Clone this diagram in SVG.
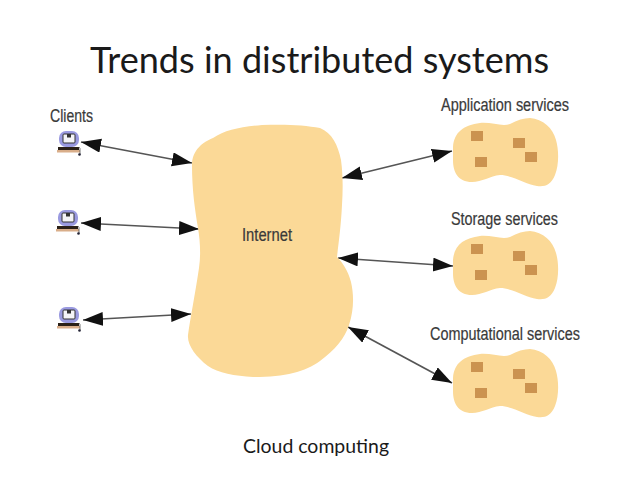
<svg xmlns="http://www.w3.org/2000/svg" xmlns:xlink="http://www.w3.org/1999/xlink" width="638" height="479" viewBox="0 0 638 479">
<style>
.t{font-family:"Lato","Open Sans",sans-serif;fill:#1a1a1a}
.l{font-family:"Liberation Sans Narrow","Liberation Sans",Arial,sans-serif;font-size:17.500px;fill:#3a3a3a;stroke:#3a3a3a;stroke-width:0.2}
.c{stroke:#555;stroke-width:1.7;fill:none;marker-start:url(#h);marker-end:url(#h)}
.b{fill:#fbd997}
.s{fill:#cb9350}
</style>
<defs>
<marker id="h" markerUnits="userSpaceOnUse" markerWidth="22" markerHeight="15" refX="20" refY="7" orient="auto-start-reverse"><path d="M0 0L20 7L0 14Z" fill="#111"/></marker>
<g id="svc">
<path class="b" d="M453 147C454 132 464 125 480 123C492 122 502 127 510 124C517 120 524 118 530 118C543 119 553 128 556 140C559 150 559 165 555 175C551 185 545 187 537 186C525 184 512 175 500 175C490 176 482 182 472 182C458 182 453 172 453 160Z"/>
<rect class="s" x="471" y="131" width="12" height="10"/>
<rect class="s" x="513" y="138" width="12" height="10"/>
<rect class="s" x="525" y="152" width="12" height="10"/>
<rect class="s" x="475" y="157" width="12" height="10"/>
</g>
<g id="pc">
<rect x="59" y="131" width="20" height="16" rx="7" fill="#9a9ae0"/>
<rect x="63" y="134" width="12" height="9" rx="1" fill="#f4f4f8" stroke="#333" stroke-width="1"/>
<rect x="67" y="134" width="4" height="3.500" fill="#333"/>
<rect x="58" y="147" width="21" height="3" fill="#2b2118"/>
<rect x="57" y="150" width="23" height="2.500" fill="#d9ae8a"/>
<path d="M79 147Q80.500 148 80 151V154" fill="none" stroke="#555" stroke-width="0.8"/>
<circle cx="79.500" cy="154.500" r="1.300" fill="#223"/>
</g>
</defs>
<rect width="638" height="479" fill="#fff"/>
<text class="t" x="90" y="73" font-size="36" textLength="459" lengthAdjust="spacingAndGlyphs">Trends in distributed systems</text>
<g id="connectors">
<line class="c" x1="81" y1="142" x2="192" y2="163"/>
<line class="c" x1="81" y1="223" x2="199" y2="229"/>
<line class="c" x1="83" y1="320" x2="191" y2="314"/>
<line class="c" x1="342" y1="178" x2="452" y2="151"/>
<line class="c" x1="338" y1="258" x2="453" y2="266"/>
<line class="c" x1="348" y1="327" x2="452" y2="383"/>
</g>
<g id="internet">
<path class="b" d="M213 138C225 130 240 127 262 125C285 124 305 125 320 128C332 133 338 145 341 160C343 175 343 190 342 205C341 225 339 240 337 257C342 262 348 270 351 282C354 295 354 310 349 325C345 338 335 350 320 361C305 372 285 377 253 377C235 376 218 373 208 366C196 357 187 345 188 335C190 320 195 295 199 268C201 255 200 240 198 228C195 210 192 190 192 165C192 150 203 142 213 138Z"/>
<text class="l" x="242" y="241" textLength="50" lengthAdjust="spacingAndGlyphs">Internet</text>
</g>
<g id="clients">
<text class="l" x="50" y="122" textLength="43" lengthAdjust="spacingAndGlyphs">Clients</text>
<use xlink:href="#pc"/>
</g>
<g id="client2"><use xlink:href="#pc" transform="translate(-1 79)"/></g>
<g id="client3"><use xlink:href="#pc" transform="translate(0 176)"/></g>
<g id="application"><text class="l" x="441" y="111" textLength="128" lengthAdjust="spacingAndGlyphs">Application services</text><use xlink:href="#svc"/></g>
<g id="storage"><text class="l" x="451" y="225" textLength="107" lengthAdjust="spacingAndGlyphs">Storage services</text><use xlink:href="#svc" transform="translate(0 113)"/></g>
<g id="computational"><text class="l" x="430" y="340" textLength="150" lengthAdjust="spacingAndGlyphs">Computational services</text><use xlink:href="#svc" transform="translate(0 231)"/></g>
<text class="t" x="243" y="453" font-size="18.500" textLength="146" lengthAdjust="spacingAndGlyphs">Cloud computing</text>
</svg>
